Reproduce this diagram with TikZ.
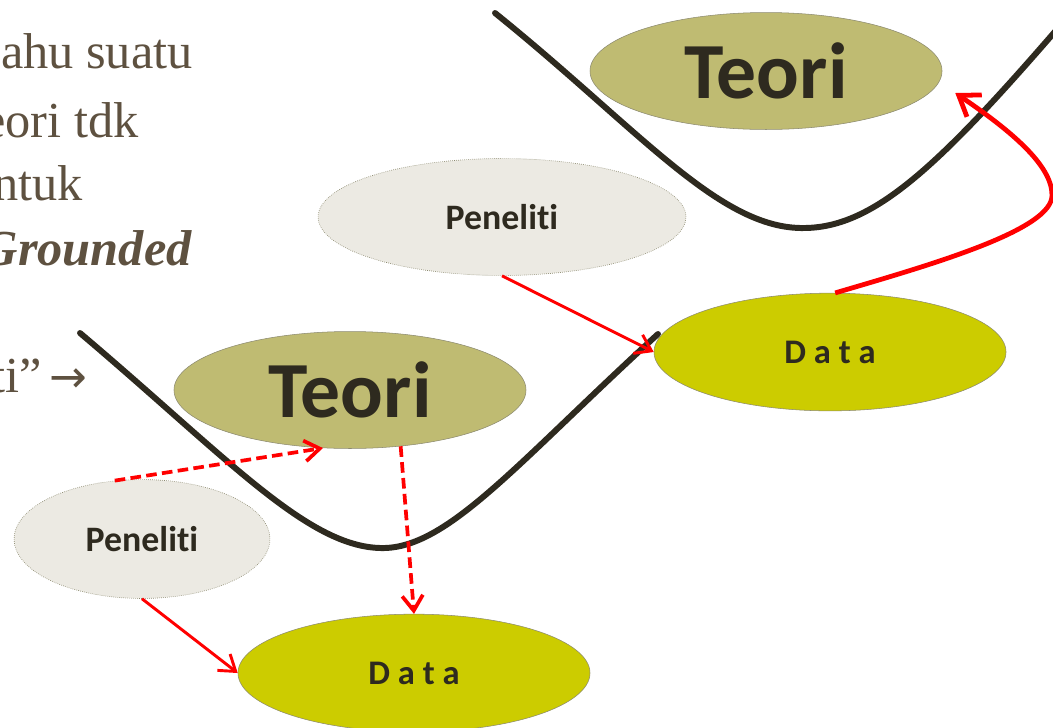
\documentclass[tikz,border=0pt]{standalone}
\usepackage{fontspec}
\setmainfont{Liberation Serif}
\newfontfamily\carlito[Ligatures={NoCommon}]{Carlito}
\newfontfamily\arrowfont{DejaVu Sans}
\usetikzlibrary{shapes.geometric,arrows.meta,calc}
\definecolor{slidetext}{HTML}{5E5140}
\definecolor{inkdark}{HTML}{2E2A1F}
\definecolor{teorifill}{HTML}{BFBB72}
\definecolor{datafill}{HTML}{CCCC00}
\definecolor{penfill}{HTML}{ECEAE3}
\definecolor{edgegray}{HTML}{8C8A70}
\definecolor{arrowred}{HTML}{FF0000}
\begin{document}
\begin{tikzpicture}[x=0.0265cm, y=-0.0265cm,
		teori/.style={ellipse, fill=teorifill, draw=edgegray, line width=0.4pt, minimum width=9.33cm, minimum height=3.1cm, inner sep=0pt, text=inkdark, font=\carlito\bfseries\fontsize{60}{60}\selectfont},
		peneliti/.style={ellipse, fill=penfill, draw=edgegray, densely dotted, line width=0.5pt, inner sep=0pt, text=inkdark, font=\carlito\bfseries\fontsize{27}{27}\selectfont},
		data/.style={ellipse, fill=datafill, draw=edgegray, line width=0.4pt, minimum width=9.33cm, minimum height=3.12cm, inner sep=0pt, text=inkdark, font=\carlito\bfseries\fontsize{26}{26}\selectfont},
		valley/.style={inkdark, line width=4.5pt, line cap=round},
		link/.style={arrowred, line width=2.2pt, -{Straight Barb[length=4mm,width=5.5mm]}},
		dashlink/.style={link, line width=2.8pt, dash pattern=on 8pt off 4pt},
		slide/.style={anchor=base east, text=slidetext, inner sep=0pt, font=\fontsize{38}{38}\selectfont}]
			% page
			\clip (0,0) rectangle (1053,727);
	
			% slide text
			\node[slide] (line1) at (193,68) {ahu suatu};
			\node[slide] (line2) at (139,137) {eori tdk};
			\node[slide] (line3) at (83,200) {ntuk};
			\node[slide, font=\bfseries\itshape\fontsize{38}{38}\selectfont] (line4) at (192,265) {Grounded};
			\node[slide] (line5) at (88,392) {ti”\,{\arrowfont\fontsize{34}{34}\selectfont →}};
	
			% valleys
			\draw[valley] (495,13) .. controls (640,130) and (720,230) .. (805,228) .. controls (875,227) and (940,165) .. (1065,20);
			\draw[valley] (80,333) .. controls (230,460) and (310,550) .. (385,548) .. controls (450,546) and (520,460) .. (658,334);
	
			% ellipses
			\node[teori] (teoriR) at (766,71) {Teori};
			\node[peneliti, minimum width=9.75cm, minimum height=3.1cm] (penelitiR) at (502,217) {Peneliti};
			\node[data] (dataR) at (830,352) {D a t a};
			\node[teori] (teoriL) at (350,390) {Teori};
			\node[peneliti, minimum width=6.78cm, minimum height=3.15cm] (penelitiL) at (142,539) {Peneliti};
			\node[data] (dataL) at (414,673) {D a t a};
	
			% arrows
			\draw[link] (penelitiR.south) -- (dataR.west);
			\draw[link] (penelitiL.south) -- (dataL.west);
			\draw[dashlink] (penelitiL.115) -- (teoriL.245);
			\draw[dashlink] (teoriL.312) -- (dataL.north);
			\draw[link, line width=3.6pt, -{Straight Barb[length=5mm,width=7mm]}] (dataR.85) .. controls (930,265) and (1053,230) .. (1052,195) .. controls (1052,165) and (1010,130) .. ($(teoriR.east)+(13,22)$);
		\end{tikzpicture}
\end{document}
